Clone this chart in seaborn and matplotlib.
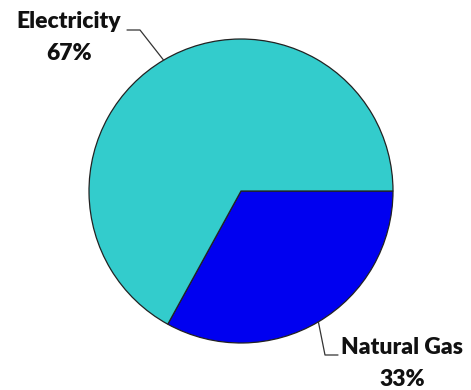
import matplotlib
matplotlib.use("Agg")
import matplotlib.pyplot as plt
import numpy as np
import seaborn as sns

# Energy sources and their share of consumption
sources = ["Natural Gas", "Electricity"]
shares = [33, 67]
colors = ["#0000F0", "#33CCCC"]

sns.set_theme(style="white")
plt.rcParams["font.family"] = ["Lato", "DejaVu Sans"]

W, H = 471, 390
fig = plt.figure(figsize=(W / 100, H / 100), dpi=100)
ax = fig.add_axes([0, 0, 1, 1])

cx, cy, r = 241, H - 191, 152
wedges, _ = ax.pie(
    shares,
    colors=colors,
    startangle=0,
    counterclock=False,
    center=(cx, cy),
    radius=r,
    frame=True,
    wedgeprops=dict(edgecolor="#222222", linewidth=0.9),
)
ax.set_xlim(0, W)
ax.set_ylim(0, H)
ax.set_axis_off()


def edge_point(w):
    mid = np.deg2rad((w.theta1 + w.theta2) / 2)
    return cx + r * np.cos(mid), cy + r * np.sin(mid)


lc = "#333333"
fs = 16.5
tc = "#111111"
# Electricity label (upper left)
ex, ey = edge_point(wedges[1])
ax.plot([ex, 140, 127], [ey, H - 30, H - 30], color=lc, lw=0.9)
ax.text(69, H - 22, sources[1], ha="center", va="center",
        fontsize=fs, fontweight="heavy", color=tc)
ax.text(69, H - 53, f"{shares[1]}%", ha="center", va="center",
        fontsize=fs, fontweight="heavy", color=tc)

# Natural gas label (lower right)
gx, gy = edge_point(wedges[0])
ax.plot([gx, 325, 338], [gy, H - 355, H - 355], color=lc, lw=0.9)
ax.text(402, H - 347, sources[0], ha="center", va="center",
        fontsize=fs, fontweight="heavy", color=tc)
ax.text(402, H - 380, f"{shares[0]}%", ha="center", va="center",
        fontsize=fs, fontweight="heavy", color=tc)

fig.savefig("out.png", dpi=100, facecolor="white")
